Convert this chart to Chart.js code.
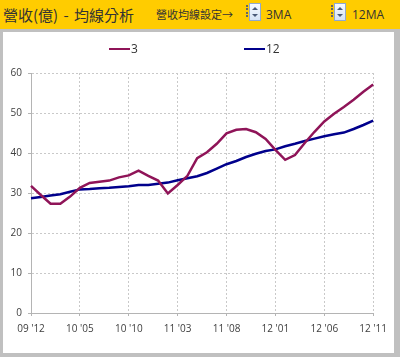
<!DOCTYPE html>
<html><head><meta charset="utf-8">
<script src="https://cdn.jsdelivr.net/npm/chart.js@4"></script>
<style>
html,body{margin:0;padding:0;}
body{width:400px;height:357px;background:#c0c0c0;position:relative;overflow:hidden;font-family:"Noto Sans CJK TC","Open Sans",sans-serif;}
#hdr{position:absolute;left:0;top:0;width:400px;height:29px;background:#ffcc00;}
#title{position:absolute;left:3px;top:0;line-height:29px;font-size:15px;color:#333;word-spacing:2px;white-space:nowrap;}
#setlbl{position:absolute;left:156px;top:0;line-height:29px;font-size:11px;color:#333;white-space:nowrap;}
.grip{position:absolute;top:5px;width:0;height:12px;border-left:2px dotted #666;}
.spin{position:absolute;top:3px;width:12px;height:18px;border:1px solid #8fa8d0;background:linear-gradient(#f7faff,#d5e2f5);box-sizing:border-box;}
.up,.dn{position:absolute;left:2px;width:0;height:0;border-left:3px solid transparent;border-right:3px solid transparent;}
.up{top:3px;border-bottom:3px solid #4a5a78;}
.dn{top:10px;border-top:3px solid #4a5a78;}
.ma{position:absolute;top:0;line-height:29px;font-size:12px;color:#333;font-family:"Open Sans",sans-serif;white-space:nowrap;}
#panel{position:absolute;left:3px;top:32px;width:391px;height:321px;background:#fff;}
#panel canvas{position:absolute;left:0;top:0;}
.lg{position:absolute;top:8px;height:18px;font-family:"Open Sans",sans-serif;font-size:12px;color:#333;line-height:18px;white-space:nowrap;}
.lg i{display:inline-block;width:21px;height:2px;vertical-align:middle;margin-right:1px;position:relative;top:-1px;}
</style>
</head>
<body>
<div id="hdr">
  <div id="title">營收(億) - 均線分析</div>
  <div id="setlbl">營收均線設定→</div>
  <div class="grip" style="left:246px"></div>
  <div class="spin" style="left:249px"><div class="up"></div><div class="dn"></div></div>
  <div class="ma" style="left:266px">3MA</div>
  <div class="grip" style="left:331px"></div>
  <div class="spin" style="left:334px"><div class="up"></div><div class="dn"></div></div>
  <div class="ma" style="left:352px">12MA</div>
</div>
<div id="panel">
  <canvas id="c" width="391" height="321"></canvas>
  <div id="legend"></div>
</div>
<script>
// ---- data ----
const categories = [
  "09 '12",
  "10 '01","10 '02","10 '03","10 '04","10 '05","10 '06","10 '07","10 '08","10 '09","10 '10","10 '11","10 '12",
  "11 '01","11 '02","11 '03","11 '04","11 '05","11 '06","11 '07","11 '08","11 '09","11 '10","11 '11","11 '12",
  "12 '01","12 '02","12 '03","12 '04","12 '05","12 '06","12 '07","12 '08","12 '09","12 '10","12 '11"
];
const seriesNames = ["3", "12"];
const ma3 = [31.8, 29.5, 27.3, 27.3, 29.1, 31.3, 32.5, 32.8, 33.1, 33.9, 34.4, 35.6,
             34.3, 33.1, 29.9, 32.0, 34.3, 38.7, 40.2, 42.3, 44.9, 45.8, 46.0, 45.2,
             43.5, 40.8, 38.3, 39.5, 42.5, 45.3, 47.9, 49.8, 51.5, 53.3, 55.3, 57.1];
const ma12 = [28.7, 29.0, 29.4, 29.7, 30.3, 30.9, 31.0, 31.2, 31.3, 31.5, 31.7, 32.0,
              32.0, 32.3, 32.6, 33.2, 33.7, 34.2, 35.0, 36.1, 37.2, 38.0, 39.0, 39.8,
              40.5, 40.9, 41.7, 42.3, 43.0, 43.6, 44.2, 44.7, 45.1, 46.0, 47.0, 48.1];
const yTicks = [0, 10, 20, 30, 40, 50, 60];
const tickEvery = 5;

const colors = ['#8f1458', '#00008c'];

// legend (HTML)
const legendPos = [106, 241];
const lg = document.getElementById('legend');
seriesNames.forEach((n, i) => {
  const d = document.createElement('div');
  d.className = 'lg';
  d.style.left = legendPos[i] + 'px';
  d.innerHTML = '<i style="background:' + colors[i] + '"></i>' + n;
  lg.appendChild(d);
});

const gridCol = '#c9c9c9';
const tickFont = {family: 'Open Sans', size: 10};

new Chart(document.getElementById('c'), {
  type: 'line',
  data: {
    labels: categories,
    datasets: [
      {label: seriesNames[0], data: ma3, borderColor: colors[0], backgroundColor: colors[0]},
      {label: seriesNames[1], data: ma12, borderColor: colors[1], backgroundColor: colors[1]}
    ]
  },
  options: {
    responsive: false,
    animation: false,
    layout: {padding: {top: 41, right: 16, left: 0, bottom: 0}},
    plugins: {legend: {display: false}, tooltip: {enabled: false}},
    elements: {point: {radius: 0}, line: {borderWidth: 2.5, tension: 0}},
    scales: {
      x: {
        offset: false,
        grid: {
          color: c => (c.index % tickEvery === 0 ? gridCol : 'rgba(0,0,0,0)'),
          tickColor: c => (c.index % tickEvery === 0 ? '#b4b4b4' : 'rgba(0,0,0,0)'),
          tickLength: 3
        },
        border: {display: true, color: '#b4b4b4', dash: [2, 2]},
        ticks: {
          autoSkip: false, maxRotation: 0, minRotation: 0, padding: 7,
          color: '#404040', font: tickFont,
          callback: (v, i) => (i % tickEvery === 0 ? categories[i] : '')
        },
        afterFit: s => { s.height = 40; }
      },
      y: {
        min: yTicks[0], max: yTicks[yTicks.length - 1],
        afterBuildTicks: s => { s.ticks = yTicks.map(v => ({value: v})); },
        grid: {color: gridCol, tickColor: '#b4b4b4', tickLength: 3},
        border: {display: true, color: '#b4b4b4', dash: [2, 2]},
        ticks: {padding: 6, color: '#404040', font: tickFont},
        afterFit: s => { s.width = 28; }
      }
    }
  }
});
</script>
</body></html>
